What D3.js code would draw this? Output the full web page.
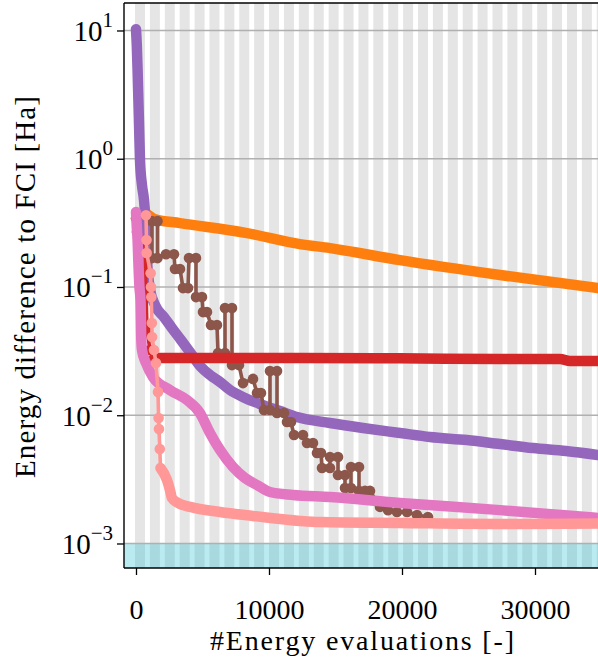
<!DOCTYPE html>
<html>
<head>
<meta charset="utf-8">
<script src="https://cdn.jsdelivr.net/npm/d3@7/dist/d3.min.js"></script>
<style>
  html, body { margin: 0; padding: 0; background: #fff; }
  svg { display: block; }
  svg text { font-family: "Liberation Serif", "DejaVu Serif", serif !important; }
</style>
</head>
<body>
<svg id="chart" width="598" height="661"></svg>
<script>
// ---- data: [energy evaluations, energy difference to FCI (Ha)] ----
const orangeRun = [
  [827, 0.370], [1429, 0.338], [3308, 0.315], [8346, 0.263], [12331, 0.216],
  [14586, 0.201], [19850, 0.162], [27368, 0.124], [34737, 0.098]
];
const redRun = [
  [0, 0.344], [75, 0.268], [677, 0.224], [752, 0.0959], [827, 0.0461],
  [1053, 0.0322], [1353, 0.0279], [4812, 0.0279], [12331, 0.0279],
  [19850, 0.0278], [27368, 0.0274], [31880, 0.0274], [32632, 0.02645], [34737, 0.02645]
];
const purpleRun = [
  [0, 10.24], [60, 7.68], [120, 4.90], [180, 2.86], [240, 1.671], [300, 0.975],
  [451, 0.622], [602, 0.476], [752, 0.278], [827, 0.162], [1053, 0.0959],
  [1429, 0.0723], [2105, 0.0583], [2707, 0.0478], [3383, 0.0386], [4060, 0.0311],
  [4887, 0.0238], [5564, 0.0206], [6316, 0.01815], [7068, 0.01572], [8195, 0.01362],
  [9549, 0.0120], [10827, 0.01078], [12105, 0.00968], [14586, 0.00870],
  [17068, 0.00795], [19850, 0.00727], [22105, 0.00676], [24887, 0.0064],
  [27368, 0.00596], [29850, 0.00555], [32331, 0.00526], [34737, 0.0049]
];
const brownRun = [
  [1203, 0.168], [1203, 0.326], [1617, 0.326], [1617, 0.168], [2256, 0.18],
  [2857, 0.18], [2932, 0.138], [3308, 0.138], [3534, 0.098], [3910, 0.098],
  [3985, 0.168], [4511, 0.168], [4511, 0.0834], [4962, 0.0834], [5038, 0.0637],
  [5338, 0.0637], [5639, 0.0505], [6090, 0.0505], [6165, 0.0305], [6692, 0.0305],
  [6692, 0.0685], [7218, 0.0685], [7218, 0.0246], [7744, 0.0246], [8045, 0.0178],
  [8797, 0.0192], [9098, 0.0149], [9398, 0.0149], [9624, 0.011], [10075, 0.011],
  [10075, 0.0221], [10602, 0.0221], [10602, 0.0104], [11128, 0.0104],
  [11353, 0.00885], [11654, 0.00885], [11880, 0.00701], [12556, 0.00701],
  [12857, 0.00607], [13308, 0.00607], [13609, 0.00507], [13910, 0.00507],
  [13985, 0.00388], [14586, 0.00388], [14586, 0.00472], [15188, 0.00472],
  [15188, 0.00342], [15714, 0.00342], [15714, 0.00271], [16165, 0.00271],
  [16165, 0.00395], [16767, 0.00395], [16767, 0.00257], [17218, 0.00257],
  [17594, 0.00257], [18346, 0.00193], [18947, 0.00182], [19624, 0.00176],
  [20376, 0.00176], [21128, 0.00167], [21955, 0.00161]
];
const pinkRun = [
  [0, 0.384], [60, 0.293], [120, 0.232], [180, 0.154], [260, 0.0998], [340, 0.079],
  [400, 0.0386], [451, 0.0322], [752, 0.0255], [1278, 0.01985], [2556, 0.01572],
  [3835, 0.01314], [4812, 0.0104], [5564, 0.00727], [6316, 0.00536], [7293, 0.00395],
  [8195, 0.00324], [9098, 0.00286], [10075, 0.00252], [11805, 0.00239],
  [14586, 0.0023], [19850, 0.00207], [27368, 0.00182], [34737, 0.00158]
];
const salmonRun = [
  [752, 0.363], [790, 0.232], [800, 0.184], [1100, 0.128], [1128, 0.0998],
  [1150, 0.0834], [1190, 0.0523], [1210, 0.0407], [1353, 0.0322], [1504, 0.0255],
  [1654, 0.0152], [1700, 0.00951], [1729, 0.0078], [1790, 0.00545], [1842, 0.00388],
  [2331, 0.00313], [2556, 0.00261], [2707, 0.00226], [3158, 0.00207], [4060, 0.00193],
  [6316, 0.00176], [8797, 0.00164], [12331, 0.0015], [13835, 0.00147],
  [19850, 0.001445], [27368, 0.00142], [34737, 0.00143]
];

const xTicks = [0, 10000, 20000, 30000];
const yTickExponents = [1, 0, -1, -2, -3];
const accuracyThreshold = 1e-3;
const batchSize = 1120;      // evaluations per shaded batch
const batchShaded = 750;     // shaded part of each batch
const batchOffset = -75;

(function draw() {
  const svg = d3.select("#chart");
  const pLeft = 124, pRight = 598, pTop = 3, pBottom = 568;
  const serif = "Liberation Serif";

  const x = d3.scaleLinear().domain([-902, 34737]).range([pLeft, pRight]);
  const y = d3.scaleLog().domain([6.44e-4, 16.38]).range([pBottom, pTop]);

  svg.append("defs").append("clipPath").attr("id", "plot-clip")
    .append("rect").attr("x", pLeft).attr("y", pTop)
    .attr("width", pRight - pLeft).attr("height", pBottom - pTop);

  const plot = svg.append("g").attr("clip-path", "url(#plot-clip)");

  // batch shading
  const batches = d3.range(0, 32).map(k => batchOffset + k * batchSize);
  plot.selectAll("rect.batch").data(batches).join("rect")
    .attr("class", "batch")
    .attr("x", d => x(d))
    .attr("width", x(batchShaded) - x(0))
    .attr("y", pTop).attr("height", pBottom - pTop)
    .attr("fill", "#e5e5e5");

  // accuracy band
  plot.append("rect")
    .attr("x", pLeft).attr("width", pRight - pLeft)
    .attr("y", y(accuracyThreshold)).attr("height", pBottom - y(accuracyThreshold))
    .attr("fill", "#17becf").attr("fill-opacity", 0.3);

  // horizontal grid
  plot.selectAll("line.grid").data(yTickExponents).join("line")
    .attr("class", "grid")
    .attr("x1", pLeft).attr("x2", pRight)
    .attr("y1", d => y(Math.pow(10, d))).attr("y2", d => y(Math.pow(10, d)))
    .attr("stroke", "#b0b0b0").attr("stroke-width", 1.6);

  // ---- series ----
  const series = [
    { data: orangeRun, color: "#ff7f0e", denseFrom: 0 },
    { data: purpleRun, color: "#9467bd", denseFrom: 0 },
    { data: brownRun,  color: "#8c564b", denseFrom: null },
    { data: redRun,    color: "#d62728", denseFrom: 6 },
    { data: pinkRun,   color: "#e377c2", denseFrom: 0 },
    { data: salmonRun, color: "#ff9896", denseFrom: 14 }
  ];

  const lineLinear = d3.line().x(d => x(d[0])).y(d => y(d[1]));
  const lineSmooth = d3.line().x(d => x(d[0])).y(d => y(d[1])).curve(d3.curveMonotoneX);
  const markerR = 5.3;

  series.forEach(s => {
    const g = plot.append("g");
    const cut = s.denseFrom === null ? s.data.length : s.denseFrom;
    const sparse = s.data.slice(0, Math.min(cut + 1, s.data.length));
    const dense = s.data.slice(cut);
    if (cut > 0) {
      g.append("path").attr("d", lineLinear(sparse))
        .attr("fill", "none").attr("stroke", s.color)
        .attr("stroke-width", 3.6).attr("stroke-linejoin", "round");
      g.selectAll("circle").data(s.data.slice(0, cut)).join("circle")
        .attr("cx", d => x(d[0])).attr("cy", d => y(d[1]))
        .attr("r", markerR).attr("fill", s.color);
    }
    if (dense.length > 1) {
      g.append("path").attr("d", lineSmooth(dense))
        .attr("fill", "none").attr("stroke", s.color)
        .attr("stroke-width", 10.5)
        .attr("stroke-linejoin", "round").attr("stroke-linecap", "round");
    }
  });

  // ---- axes ----
  const xAxis = svg.append("g").attr("transform", `translate(0,${pBottom})`)
    .call(d3.axisBottom(x).tickValues(xTicks).tickFormat(d3.format("d"))
      .tickSize(7).tickSizeOuter(0));
  xAxis.select(".domain").remove();
  xAxis.selectAll(".tick line").attr("stroke", "#000").attr("stroke-width", 1.3);
  xAxis.selectAll(".tick text").attr("font-family", serif).attr("font-size", 28)
    .attr("fill", "#000").attr("dy", null).attr("y", 51);

  const yAxis = svg.append("g").attr("transform", `translate(${pLeft},0)`)
    .call(d3.axisLeft(y).tickValues(yTickExponents.map(e => Math.pow(10, e)))
      .tickFormat("").tickSize(7).tickSizeOuter(0));
  yAxis.select(".domain").remove();
  yAxis.selectAll(".tick line").attr("stroke", "#000").attr("stroke-width", 1.3);
  yAxis.selectAll(".tick").each(function(d) {
    const e = Math.round(Math.log10(d));
    const t = d3.select(this).select("text")
      .attr("x", -11).attr("dy", null).attr("y", 10)
      .attr("text-anchor", "end")
      .attr("font-family", serif).attr("font-size", 29).attr("fill", "#000");
    t.text(null);
    t.append("tspan").text("10");
    t.append("tspan").attr("dy", -14).attr("font-size", 21)
      .text(e < 0 ? "\u2212" + (-e) : String(e));
  });

  // spines
  const spines = svg.append("g").attr("stroke", "#000").attr("stroke-width", 1.4);
  spines.append("line").attr("x1", pLeft).attr("x2", pLeft).attr("y1", pTop).attr("y2", pBottom);
  spines.append("line").attr("x1", pLeft).attr("x2", pRight).attr("y1", pBottom).attr("y2", pBottom);
  spines.append("line").attr("x1", pLeft).attr("x2", pRight).attr("y1", pTop).attr("y2", pTop);

  // axis titles
  svg.append("text")
    .attr("x", (pLeft + pRight) / 2 + 1).attr("y", 650)
    .attr("text-anchor", "middle")
    .attr("font-family", serif).attr("font-size", 28)
    .attr("textLength", 304).attr("lengthAdjust", "spacing")
    .text("#Energy evaluations [-]");

  svg.append("text")
    .attr("transform", "translate(35,287) rotate(-90)")
    .attr("text-anchor", "middle")
    .attr("font-family", serif).attr("font-size", 29)
    .attr("textLength", 382).attr("lengthAdjust", "spacing")
    .text("Energy difference to FCI [Ha]");
})();
</script>
</body>
</html>
